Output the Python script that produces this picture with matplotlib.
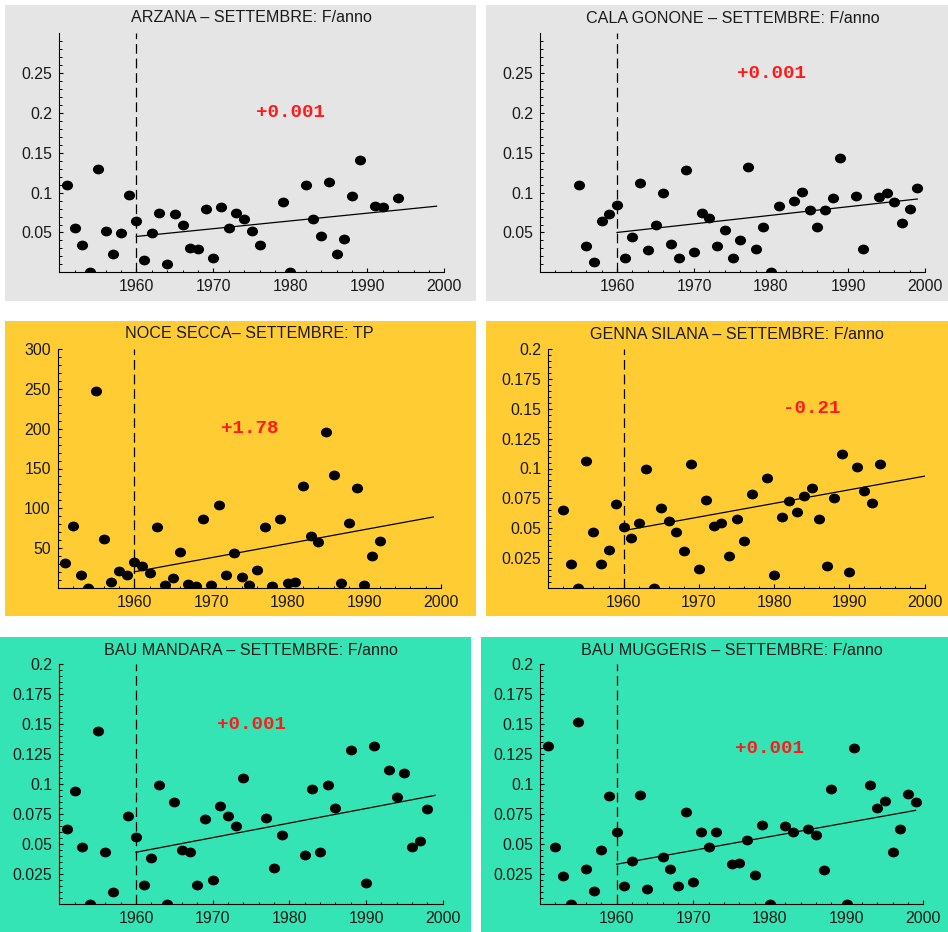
import matplotlib
matplotlib.use("Agg")
import matplotlib.pyplot as plt
from matplotlib.patches import Rectangle
from matplotlib.path import Path
from matplotlib.transforms import Affine2D
from matplotlib.ticker import FixedLocator, FixedFormatter
import numpy as np

plt.rcParams['font.family'] = ['Liberation Sans', 'DejaVu Sans']
plt.rcParams['lines.scale_dashes'] = False

W, H = 948, 932

# ---------------- data ----------------
titles = [
    "ARZANA \u2013 SETTEMBRE: F/anno",
    "CALA GONONE \u2013 SETTEMBRE: F/anno",
    "NOCE SECCA\u2013 SETTEMBRE: TP",
    "GENNA SILANA \u2013 SETTEMBRE: F/anno",
    "BAU MANDARA \u2013 SETTEMBRE: F/anno",
    "BAU MUGGERIS \u2013 SETTEMBRE: F/anno",
]

arzana_years = list(range(1951, 1977)) + [1979, 1980] + list(range(1982, 1990)) + [1991, 1992, 1994]
arzana_vals = [0.110, 0.056, 0.034, 0.0, 0.130, 0.052, 0.023, 0.049, 0.097, 0.065,
               0.016, 0.049, 0.074, 0.011, 0.073, 0.059, 0.030, 0.029, 0.080, 0.018,
               0.082, 0.055, 0.074, 0.067, 0.052, 0.034, 0.088, 0.0, 0.110, 0.067,
               0.046, 0.113, 0.023, 0.042, 0.096, 0.141, 0.083, 0.082, 0.093]

cala_years = list(range(1955, 1982)) + list(range(1983, 1990)) + [1991, 1992] + list(range(1994, 2000))
cala_vals = [0.110, 0.033, 0.013, 0.064, 0.073, 0.085, 0.018, 0.044, 0.112, 0.028,
             0.060, 0.100, 0.035, 0.018, 0.128, 0.025, 0.074, 0.068, 0.033, 0.053,
             0.018, 0.041, 0.132, 0.029, 0.057, 0.0, 0.083, 0.089, 0.101, 0.078,
             0.057, 0.078, 0.093, 0.143, 0.096, 0.029, 0.094, 0.100, 0.088, 0.062,
             0.080, 0.106]

noce_years = list(range(1951, 1993))
noce_vals = [31, 78, 16, 0, 248, 61, 7, 21, 16, 32, 27, 18, 76, 3, 12, 45, 5, 2, 87, 3,
             104, 16, 44, 13, 3, 22, 76, 2, 86, 6, 7, 128, 65, 57, 196, 142, 6, 82, 126,
             3, 40, 59]

genna_years = list(range(1952, 1978)) + list(range(1979, 1995))
genna_vals = [0.065, 0.020, 0.0, 0.106, 0.047, 0.020, 0.032, 0.070, 0.051, 0.0415,
              0.054, 0.100, 0.0, 0.067, 0.056, 0.047, 0.031, 0.104, 0.016, 0.074,
              0.052, 0.054, 0.027, 0.058, 0.039, 0.079, 0.092, 0.011, 0.059, 0.073,
              0.064, 0.077, 0.084, 0.058, 0.018, 0.075, 0.112, 0.013, 0.101, 0.081,
              0.071, 0.104]

mandara_years = (list(range(1951, 1958)) + list(range(1959, 1975)) + [1977, 1978, 1979]
                 + list(range(1982, 1987)) + [1988, 1990, 1991] + list(range(1993, 1999)))
mandara_vals = [0.062, 0.094, 0.047, 0.0, 0.144, 0.043, 0.010, 0.073, 0.056, 0.016,
                0.038, 0.099, 0.0, 0.085, 0.045, 0.043, 0.016, 0.071, 0.020, 0.082,
                0.073, 0.065, 0.105, 0.072, 0.030, 0.057, 0.041, 0.096, 0.043, 0.099,
                0.080, 0.128, 0.017, 0.132, 0.112, 0.089, 0.109, 0.047, 0.052, 0.079]

muggeris_years = (list(range(1951, 1965)) + list(range(1966, 1974)) + list(range(1975, 1981))
                  + [1982, 1983] + list(range(1985, 1989)) + [1990, 1991] + list(range(1993, 2000)))
muggeris_vals = [0.132, 0.047, 0.023, 0.0, 0.152, 0.029, 0.011, 0.045, 0.090, 0.060,
                 0.015, 0.036, 0.091, 0.012, 0.039, 0.029, 0.015, 0.077, 0.018, 0.060,
                 0.047, 0.060, 0.033, 0.034, 0.053, 0.024, 0.066, 0.0, 0.065, 0.060,
                 0.062, 0.057, 0.028, 0.096, 0.0, 0.130, 0.099, 0.080, 0.086, 0.043,
                 0.062, 0.092, 0.085]

series_years = [arzana_years, cala_years, noce_years, genna_years, mandara_years, muggeris_years]
series_vals = [arzana_vals, cala_vals, noce_vals, genna_vals, mandara_vals, muggeris_vals]

# trend lines: (start year, start value, end year, end value)
trend_start_year = [1960, 1960, 1960, 1960, 1960, 1960]
trend_start_val = [0.045, 0.050, 20, 0.048, 0.043, 0.033]
trend_end_year = [1999, 1999, 1999, 2000, 1999, 1999]
trend_end_val = [0.083, 0.092, 89, 0.0936, 0.0905, 0.078]

trend_labels = ["+0.001", "+0.001", "+1.78", "-0.21", "+0.001", "+0.001"]
label_x = [1980, 1980, 1975, 1985, 1975, 1980]
label_y = [0.20, 0.25, 200, 0.15, 0.15, 0.13]

x_major = [1960, 1970, 1980, 1990, 2000]
x_major_labels = ["1960", "1970", "1980", "1990", "2000"]

y_top = [0.3, 0.3, 300, 0.2, 0.2, 0.2]
y_major_a = [0.05, 0.10, 0.15, 0.20, 0.25]
y_labels_a = ["0.05", "0.1", "0.15", "0.2", "0.25"]
y_major_b = [50, 100, 150, 200, 250, 300]
y_labels_b = ["50", "100", "150", "200", "250", "300"]
y_major_c = [0.025, 0.05, 0.075, 0.1, 0.125, 0.15, 0.175, 0.2]
y_labels_c = ["0.025", "0.05", "0.075", "0.1", "0.125", "0.15", "0.175", "0.2"]
y_majors = [y_major_a, y_major_a, y_major_b, y_major_c, y_major_c, y_major_c]
y_major_labels = [y_labels_a, y_labels_a, y_labels_b, y_labels_c, y_labels_c, y_labels_c]
y_minor_step = [0.01, 0.01, 10, 0.005, 0.005, 0.005]

# ---------------- layout (pixels) ----------------
GRAY, ORANGE, GREEN = "#e5e5e5", "#ffcc33", "#34e4b4"
panel_boxes = [  # x0, y0, x1, y1 (from top-left)
    (5, 5, 476, 301, GRAY),
    (486, 5, 948, 301, GRAY),
    (5, 321, 476, 616, ORANGE),
    (486, 321, 948, 616, ORANGE),
    (0, 637, 471, 932, GREEN),
    (481, 637, 948, 932, GREEN),
]
axes_boxes = [  # x_left, x_right, y_bottom, y_top
    (59.3, 444.3, 272.3, 33.3),
    (540.0, 925.0, 272.3, 33.3),
    (57.7, 441.0, 587.7, 349.3),
    (548.3, 924.7, 588.0, 349.0),
    (59.3, 442.7, 903.7, 664.3),
    (540.0, 923.3, 903.7, 664.3),
]
title_y = [18, 18.3, 334, 334.3, 650.7, 650.7]

fig = plt.figure(figsize=(W / 100, H / 100), dpi=100, facecolor="white")

for (x0, y0, x1, y1, col) in panel_boxes:
    fig.add_artist(Rectangle((x0 / W, 1 - y1 / H), (x1 - x0) / W, (y1 - y0) / H,
                             transform=fig.transFigure, facecolor=col,
                             edgecolor="none", zorder=0))

dot = Path.unit_circle().transformed(Affine2D().scale(1.0, 0.86))
ink = "#1a1a1a"

for i in range(6):
    xl, xr, yb, yt = axes_boxes[i]
    ax = fig.add_axes([xl / W, 1 - yb / H, (xr - xl) / W, (yb - yt) / H])
    ax.set_facecolor("none")
    ax.set_xlim(1950, 2000)
    ax.set_ylim(0, y_top[i])

    for s in ("top", "right"):
        ax.spines[s].set_visible(False)
    for s in ("left", "bottom"):
        ax.spines[s].set_linewidth(0.8)
        ax.spines[s].set_color("black")

    ax.xaxis.set_major_locator(FixedLocator(x_major))
    ax.xaxis.set_major_formatter(FixedFormatter(x_major_labels))
    ax.xaxis.set_minor_locator(FixedLocator(np.arange(1952, 2000, 2)))
    ax.yaxis.set_major_locator(FixedLocator(y_majors[i]))
    ax.yaxis.set_major_formatter(FixedFormatter(y_major_labels[i]))
    step = y_minor_step[i]
    ax.yaxis.set_minor_locator(FixedLocator(np.arange(step, y_top[i] - step / 2, step)))

    ax.tick_params(which="major", direction="in", length=3.2, width=0.8,
                   labelsize=11.4, labelcolor=ink, pad=5)
    ax.tick_params(which="minor", direction="in", length=1.8, width=0.7)

    # reference line at 1960
    ax.axvline(1960, color="black", lw=0.9, dashes=(7, 3.5), zorder=2)

    ax.plot(series_years[i], series_vals[i], linestyle="none", marker=dot,
            markersize=7.0, color="black", zorder=3)

    ax.plot([trend_start_year[i], trend_end_year[i]],
            [trend_start_val[i], trend_end_val[i]], color="black", lw=0.9, zorder=3)

    ax.text(label_x[i], label_y[i], trend_labels[i], color="#ff1a1a",
            family=["Liberation Mono", "DejaVu Sans Mono"], fontweight="bold",
            fontsize=13.8, ha="center", va="center")

    fig.text((xl + xr) / 2 / W, 1 - title_y[i] / H, titles[i], ha="center",
             va="center", fontsize=11.6, color=ink)

fig.savefig("out.png", dpi=100, facecolor="white")
